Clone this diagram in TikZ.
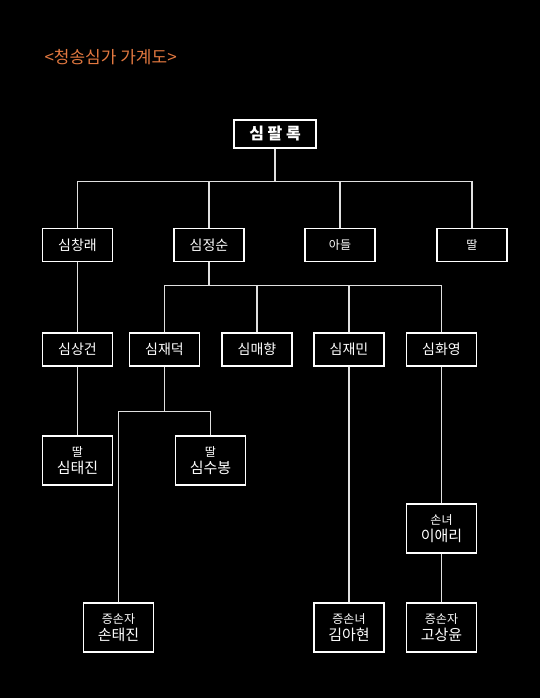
\documentclass[tikz,border=0pt]{standalone}
\usepackage{fontspec}
\setmainfont{Noto Sans CJK KR}
\definecolor{titleorange}{RGB}{226,120,64}
\begin{document}
\begin{tikzpicture}[x=1pt, y=-1pt,
    person/.style={draw=white, line width=1.4pt, text=white, minimum width=70pt,
        minimum height=33pt, inner sep=0pt, font=\fontsize{14}{16}\selectfont},
    person2/.style={person, minimum height=49pt, align=center, font=\fontsize{15}{17}\selectfont},
    small/.style={font=\fontsize{12}{14}\selectfont},
    link/.style={draw=white!88!black, line width=1.1pt}]
    % background
    \fill[black] (0,0) rectangle (540,698);
    \node[anchor=west, text=titleorange, font=\fontsize{17}{19}\selectfont] (title) at (41,57) {<청송심가 가계도>};

    % first generation
    \node[person, minimum width=82pt, minimum height=28pt, font=\fontsize{16}{18}\selectfont\bfseries] (palrok) at (275,134) {심 팔 록};

    % second generation
    \node[person] (changrae) at (77.5,245) {심창래};
    \node[person] (jeongsun) at (209,245) {심정순};
    \node[person, small] (adeul) at (340,245) {아들};
    \node[person, small] (ddal) at (472,245) {딸};

    % third generation
    \node[person] (sanggeon) at (77.5,349.5) {심상건};
    \node[person] (jaedeok) at (164.5,349.5) {심재덕};
    \node[person] (maehyang) at (257,349.5) {심매향};
    \node[person] (jaemin) at (349,349.5) {심재민};
    \node[person] (hwayeong) at (441.5,349.5) {심화영};

    % fourth generation
    \node[person2] (taejin) at (77.5,460.5) {{\fontsize{12}{17}\selectfont 딸}\\심태진};
    \node[person2] (subong) at (210.5,460.5) {{\fontsize{12}{17}\selectfont 딸}\\심수봉};
    \node[person2] (aeri) at (441.5,528.5) {{\fontsize{12}{17}\selectfont 손녀}\\이애리};
    \node[person2] (sontaejin) at (118.5,627.5) {{\fontsize{12}{17}\selectfont 증손자}\\손태진};
    \node[person2] (ahyeon) at (349,627.5) {{\fontsize{12}{17}\selectfont 증손녀}\\김아현};
    \node[person2] (sangyun) at (441.5,627.5) {{\fontsize{12}{17}\selectfont 증손자}\\고상윤};

    % junctions
    \coordinate (j1) at ([yshift=-33pt]palrok.south);
    \coordinate (j2) at ([yshift=-23pt]jeongsun.south);
    \coordinate (j3) at ([yshift=-45pt]jaedeok.south);

    % connectors
    \draw[link] (palrok.south) -- (j1);
    \draw[link] (changrae.north) |- (j1) -| (ddal.north);
    \draw[link] (jeongsun.north) -- (jeongsun.north |- j1);
    \draw[link] (adeul.north) -- (adeul.north |- j1);

    \draw[link] (jeongsun.south) -- (j2);
    \draw[link] (jaedeok.north) |- (j2) -| (hwayeong.north);
    \draw[link] (maehyang.north) -- (maehyang.north |- j2);
    \draw[link] (jaemin.north) -- (jaemin.north |- j2);

    \draw[link] (changrae) -- (sanggeon);
    \draw[link] (sanggeon) -- (taejin);
    \draw[link] (jaedeok.south) -- (j3);
    \draw[link] (sontaejin.north) |- (j3) -| (subong.north);
    \draw[link] (jaemin) -- (ahyeon);
    \draw[link] (hwayeong) -- (aeri);
    \draw[link] (aeri) -- (sangyun);
\end{tikzpicture}
\end{document}
